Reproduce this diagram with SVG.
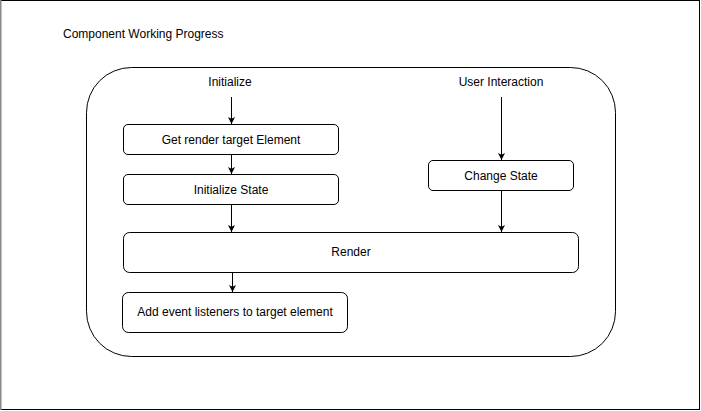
<svg xmlns="http://www.w3.org/2000/svg" width="701" height="411" viewBox="0 0 701 411">
<defs>
<style>
text{font-family:"Liberation Sans",Arial,Helvetica,sans-serif;font-size:12px;fill:#000}
.box{fill:#fff;stroke:#000;stroke-width:1}
.c{text-anchor:middle}
.ln{stroke:#000;stroke-width:1;fill:none;marker-end:url(#ah)}
</style>
<marker id="ah" viewBox="0 0 8 8" refX="7" refY="4" markerWidth="8" markerHeight="8" markerUnits="userSpaceOnUse" orient="auto">
<path d="M0,0.5 L7,4 L0,7.5 L1.8,4 Z" fill="#000"/>
</marker>
</defs>
<rect id="frame" x="0.5" y="0.5" width="699" height="409" fill="#fff" stroke="#000" stroke-width="1"/>
<line x1="0.5" y1="0" x2="0.5" y2="410" stroke="#888" stroke-width="2"/>
<text id="title" x="63" y="38">Component Working Progress</text>
<g id="container"><rect x="86.5" y="67.5" width="529" height="289" rx="45" ry="45" class="box"/></g>
<g id="initialize"><text class="c" x="230" y="86">Initialize</text></g>
<g id="user-interaction"><text class="c" x="501" y="86">User Interaction</text></g>
<g id="get-render-target"><rect class="box" x="123.5" y="124.5" width="215" height="30" rx="4.5"/><text class="c" x="231" y="144">Get render target Element</text></g>
<g id="initialize-state"><rect class="box" x="123.5" y="174.5" width="215" height="30" rx="4.5"/><text class="c" x="231" y="194">Initialize State</text></g>
<g id="change-state"><rect class="box" x="428.5" y="160.5" width="145" height="30" rx="4.5"/><text class="c" x="501" y="180">Change State</text></g>
<g id="render"><rect class="box" x="123.5" y="232.5" width="455" height="40" rx="6"/><text class="c" x="351" y="256">Render</text></g>
<g id="add-listeners"><rect class="box" x="122.5" y="292.5" width="225" height="40" rx="6"/><text class="c" x="235" y="316">Add event listeners to target element</text></g>
<g id="connectors">
<line class="ln" x1="231.5" y1="97" x2="231.5" y2="124"/>
<line class="ln" x1="231.5" y1="155" x2="231.5" y2="174"/>
<line class="ln" x1="231.5" y1="205" x2="231.5" y2="232"/>
<line class="ln" x1="232.5" y1="273" x2="232.5" y2="292"/>
<line class="ln" x1="501.5" y1="97" x2="501.5" y2="160"/>
<line class="ln" x1="501.5" y1="191" x2="501.5" y2="232"/>
</g>
</svg>
